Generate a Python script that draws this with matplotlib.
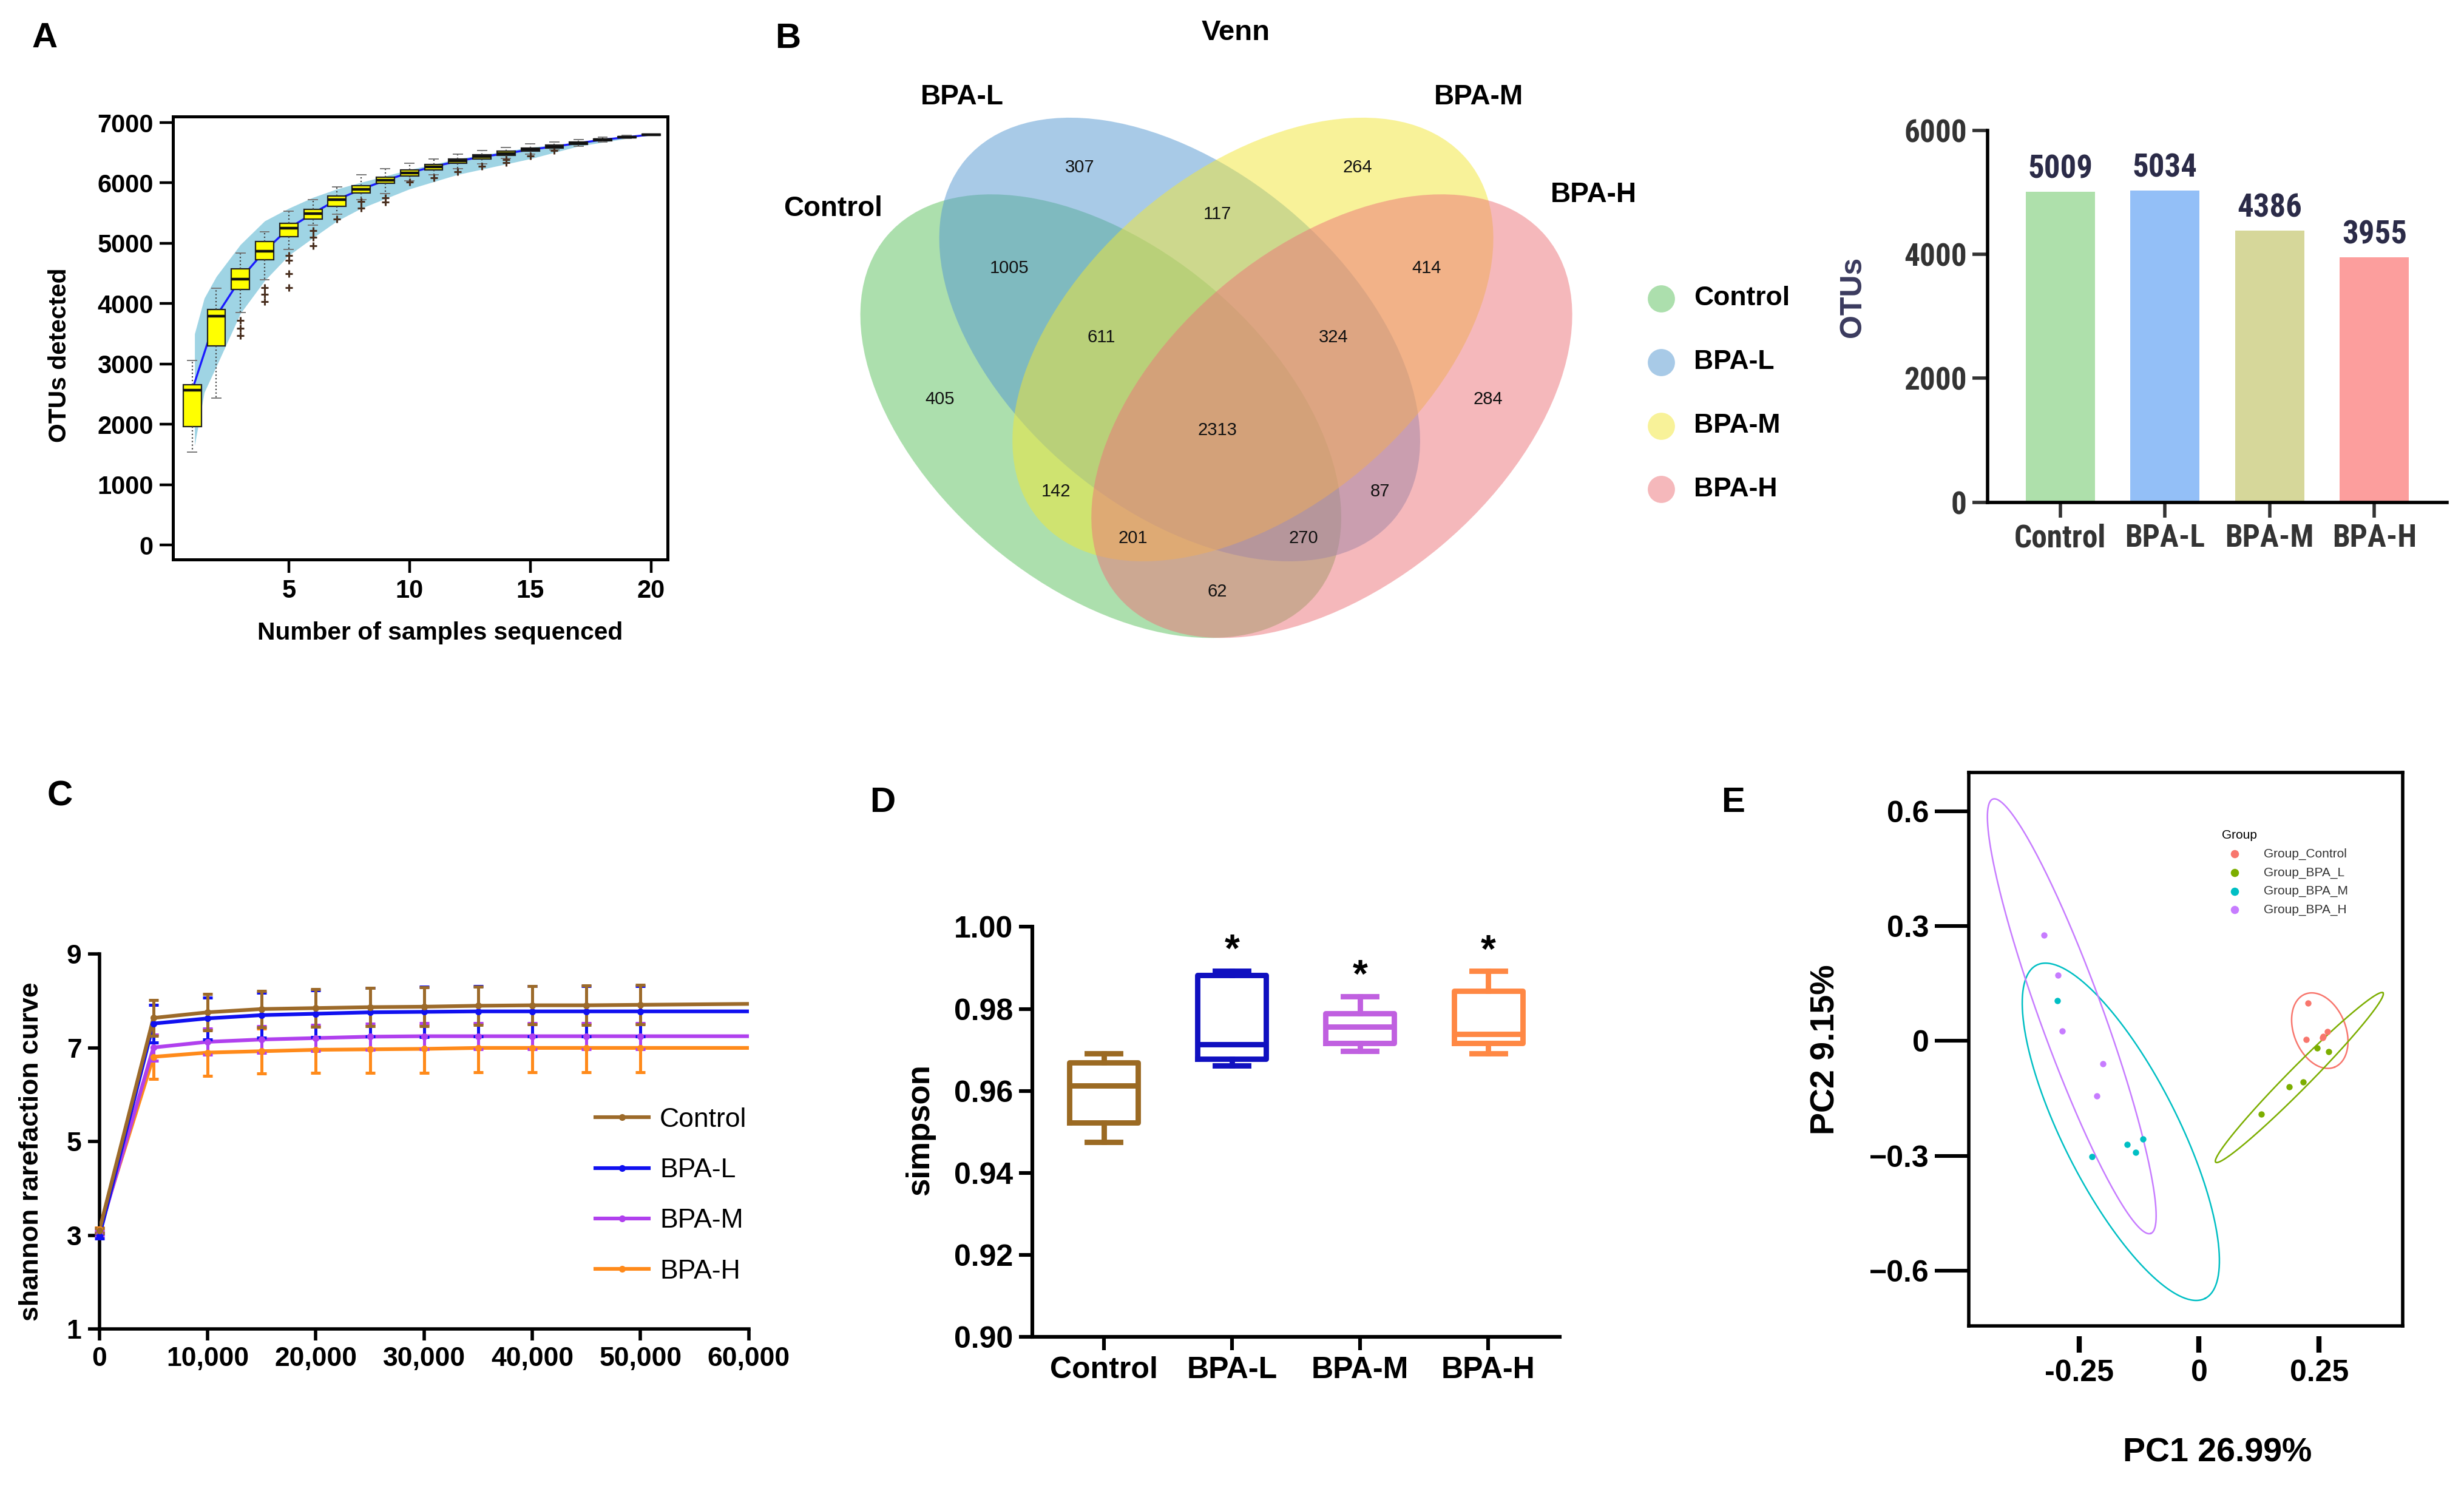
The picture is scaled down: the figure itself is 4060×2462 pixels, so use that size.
import numpy as np
import matplotlib
matplotlib.use('Agg')
import matplotlib.pyplot as plt
from matplotlib.patches import Ellipse
from matplotlib.lines import Line2D
from matplotlib import font_manager

plt.rcParams['font.family'] = ['Liberation Sans', 'DejaVu Sans']
installed = {f.name for f in font_manager.fontManager.ttflist}
narrow = 'Liberation Sans'
for cand in ['Liberation Sans Narrow', 'Roboto Condensed', 'Open Sans Condensed', 'DejaVu Sans Condensed']:
    if cand in installed:
        narrow = cand
        break

# ---------------- data ----------------
groups = ['Control', 'BPA-L', 'BPA-M', 'BPA-H']

# A: OTU accumulation (boxes per number of samples)
a_n = list(range(1, 21))
a_med = [2567, 3794, 4411, 4872, 5248, 5496, 5723, 5894, 6043, 6170,
         6270, 6362, 6433, 6489, 6553, 6603, 6660, 6716, 6759, 6801]
a_q1 = [1965, 3298, 4234, 4730, 5113, 5404, 5617, 5830, 5993, 6113,
        6220, 6326, 6397, 6461, 6525, 6574, 6638, 6695, 6745, 6790]
a_q3 = [2652, 3901, 4574, 5028, 5333, 5567, 5780, 5957, 6092, 6220,
        6305, 6397, 6468, 6525, 6574, 6624, 6680, 6730, 6765, 6805]
a_lo = [1539, 2440, 3850, 4400, 4900, 5300, 5480, 5720, 5820, 6040,
        6140, 6240, 6320, 6410, 6480, 6550, 6610, 6680, 6735, 6790]
a_hi = [3064, 4255, 4837, 5191, 5532, 5723, 5936, 6135, 6234, 6326,
        6397, 6482, 6539, 6589, 6645, 6680, 6720, 6760, 6785, 6810]
a_fliers = [[], [], [3720, 3590, 3470], [4270, 4150, 4030], [4800, 4720, 4500, 4270],
            [5210, 5100, 4960], [5400], [5690, 5580], [5750, 5680], [6010],
            [6090], [6190], [6280], [6390, 6340], [6450], [6540], [], [], [], []]
band_x = [1.1, 1.5, 2, 3, 4, 5, 6, 7, 8, 10, 12, 15, 17, 20]
band_hi = [3500, 4090, 4450, 4980, 5370, 5580, 5760, 5900, 6010, 6220, 6400, 6590, 6670, 6800]
band_lo = [1650, 2530, 2960, 3840, 4380, 4800, 5090, 5370, 5580, 5900, 6140, 6400, 6610, 6800]

# B: Venn region counts and OTU totals
venn_counts = [307, 264, 117, 1005, 414, 611, 324, 405, 2313, 284, 142, 87, 201, 270, 62]
otu_totals = [5009, 5034, 4386, 3955]

# C: shannon rarefaction
c_depth = [0, 5000, 10000, 15000, 20000, 25000, 30000, 35000, 40000, 45000, 50000, 60000]
c_mean = {
    'Control': [3.10, 7.64, 7.76, 7.83, 7.85, 7.87, 7.88, 7.90, 7.91, 7.91, 7.92, 7.94],
    'BPA-L': [2.98, 7.52, 7.63, 7.70, 7.73, 7.76, 7.77, 7.78, 7.78, 7.78, 7.78, 7.78],
    'BPA-M': [3.05, 7.01, 7.13, 7.18, 7.21, 7.24, 7.25, 7.25, 7.25, 7.25, 7.25, 7.25],
    'BPA-H': [3.12, 6.81, 6.90, 6.93, 6.96, 6.97, 6.98, 7.00, 7.00, 7.00, 7.00, 7.00],
}
c_sd = {
    'Control': [0.05, 0.38, 0.39, 0.39, 0.40, 0.41, 0.41, 0.41, 0.41, 0.42, 0.42],
    'BPA-L': [0.05, 0.40, 0.45, 0.48, 0.50, 0.52, 0.54, 0.54, 0.54, 0.54, 0.54],
    'BPA-M': [0.05, 0.28, 0.28, 0.28, 0.28, 0.28, 0.28, 0.28, 0.28, 0.28, 0.28],
    'BPA-H': [0.05, 0.47, 0.50, 0.48, 0.49, 0.50, 0.51, 0.52, 0.52, 0.52, 0.52],
}
c_xticklabels = ['0', '10,000', '20,000', '30,000', '40,000', '50,000', '60,000']

# D: simpson index boxes
d_lo = [0.9475, 0.9662, 0.9697, 0.9692]
d_q1 = [0.9523, 0.9678, 0.9716, 0.9716]
d_med = [0.9613, 0.9713, 0.9757, 0.9738]
d_q3 = [0.9669, 0.9882, 0.9789, 0.9844]
d_hi = [0.9692, 0.9893, 0.9830, 0.9892]
d_sig = ['', '*', '*', '*']

# E: PCoA points
e_labels = ['Group_Control', 'Group_BPA_L', 'Group_BPA_M', 'Group_BPA_H']
e_x = [[0.2275, 0.2236, 0.2585, 0.2668, 0.2571],
       [0.2456, 0.2701, 0.2165, 0.1881, 0.1301],
       [-0.2946, -0.2231, -0.1502, -0.1321, -0.1167],
       [-0.3229, -0.2940, -0.2850, -0.2005, -0.2127]]
e_y = [[0.0981, 0.0043, 0.0124, 0.0246, 0.0092],
       [-0.0183, -0.0273, -0.1065, -0.1201, -0.1913],
       [0.1045, -0.3019, -0.2704, -0.2907, -0.2558],
       [0.2760, 0.1710, 0.0253, -0.0588, -0.1443]]

# ---------------- layout / style ----------------
W, H = 1568, 951   # layout units of the reference
venn_pos = [(687, 106.5), (864, 106.5), (774.7, 136.3), (642.4, 170.7), (907.7, 170.7),
            (700.8, 214.6), (848.6, 214.6), (598.1, 254.2), (774.7, 273.7), (946.9, 254.2),
            (672.0, 313.0), (878.2, 313.0), (721.1, 342.8), (829.4, 342.8), (774.7, 376.6)]
venn_centers = [(700.5, 264.9), (750.7, 216.1), (797.3, 216.1), (847.5, 264.9)]
venn_angles = [40, 40, -40, -40]
venn_fill = ['#5bc15d', '#5397d1', '#f3e735', '#ed7379']
venn_names_pos = [(530.1, 132.8), (612.1, 61.8), (941.0, 61.8), (1014.2, 123.8)]
bar_colors = ['#aee0ab', '#93bff7', '#d6d79a', '#fc9e9d']
line_colors = {'Control': '#9c6a2a', 'BPA-L': '#1010f0', 'BPA-M': '#b040ee', 'BPA-H': '#ff8a1a'}
box_colors = ['#9b6a23', '#1010c0', '#c060e0', '#ff8844']
pca_colors = ['#f8766d', '#7cae00', '#00bfc4', '#c77cff']
# ellipses: centre, semi-axis vectors (data units)
e_ell_c = [(0.2514, 0.0269), (0.2088, -0.0955), (-0.1628, -0.2372), (-0.2649, 0.0644)]
e_ell_u = [(0.0307, -0.0953), (0.1741, 0.2211), (0.1753, -0.4351), (0.1644, -0.5670)]
e_ell_w = [(0.0500, 0.0253), (0.0162, -0.0200), (0.1067, 0.0676), (0.0618, 0.0282)]


def box(l, t, r, b):
    return [l / W, 1 - b / H, (r - l) / W, (b - t) / H]


fig = plt.figure(figsize=(20.3, 12.31), dpi=200)
ax0 = fig.add_axes([0, 0, 1, 1])
ax0.set_xlim(0, W)
ax0.set_ylim(H, 0)
ax0.axis('off')

# panel letters
for s, (x, y) in zip('ABCDE', [(28.3, 24.5), (501.3, 24.9), (38.2, 506.9), (561.6, 511), (1103, 511)]):
    ax0.text(x, y, s, fontsize=21, fontweight='bold', ha='center', va='center')

# ---------------- A ----------------
axA = fig.add_axes(box(110, 74, 425, 356))
axA.fill_between(band_x, band_lo, band_hi, color='#9fd4e4', lw=0, zorder=1)
axA.plot(a_n, a_med, color='#1a1aff', lw=1.2, zorder=2)
stats = [dict(med=m, q1=q1, q3=q3, whislo=lo, whishi=hi, fliers=f)
         for m, q1, q3, lo, hi, f in zip(a_med, a_q1, a_q3, a_lo, a_hi, a_fliers)]
axA.bxp(stats, positions=a_n, widths=0.75, patch_artist=True, manage_ticks=False,
        boxprops=dict(facecolor='#ffff00', edgecolor='#222222', lw=0.8),
        medianprops=dict(color='#111111', lw=1.6),
        whiskerprops=dict(color='#444444', lw=0.8, ls=':'),
        capprops=dict(color='#777777', lw=0.7),
        flierprops=dict(marker='+', markeredgecolor='#4a3020', markersize=4.5, markeredgewidth=1.1),
        zorder=3)
axA.set_xlim(0.2, 20.7)
axA.set_ylim(-235, 7105)
axA.set_xticks([5, 10, 15, 20])
axA.set_yticks(range(0, 7001, 1000))
for sp in axA.spines.values():
    sp.set_linewidth(1.8)
axA.tick_params(direction='out', length=8, width=1.6, labelsize=15)
for lab in axA.get_xticklabels() + axA.get_yticklabels():
    lab.set_fontweight('bold')
ax0.text(38, 226, 'OTUs detected', rotation=90, fontsize=14.7, fontweight='bold', ha='center', va='center')
ax0.text(280, 403, 'Number of samples sequenced', fontsize=14.7, fontweight='bold', ha='center', va='center')

# ---------------- B: Venn ----------------
for (cx, cy), ang, col in zip(venn_centers, venn_angles, venn_fill):
    ax0.add_patch(Ellipse((cx, cy), 356, 216, angle=ang, facecolor=col, alpha=0.5, lw=0))
for v, (x, y) in zip(venn_counts, venn_pos):
    ax0.text(x, y, str(v), fontsize=10.5, ha='center', va='center', color='#111111')
for g, (x, y) in zip(groups, venn_names_pos):
    ax0.text(x, y, g, fontsize=16.5, fontweight='bold', ha='center', va='center')
ax0.text(786.5, 21, 'Venn', fontsize=17, fontweight='bold', ha='center', va='center')
for i, g in enumerate(groups):
    yy = 190 + 40.5 * i
    ax0.scatter([1057], [yy], s=260, color=venn_fill[i], alpha=0.5, lw=0)
    ax0.text(1078, yy, g, fontsize=16, fontweight='bold', ha='left', va='center')

# ---------------- B: bars ----------------
axB = fig.add_axes(box(1265, 83, 1557, 319.7))
xb = np.arange(len(groups))
axB.bar(xb, otu_totals, width=0.66, color=bar_colors)
for x, v in zip(xb, otu_totals):
    axB.text(x, v + 110, str(v), ha='center', va='bottom', fontsize=19, fontweight='bold',
             color='#2b2b48', family=narrow)
axB.set_xlim(-0.69, 3.69)
axB.set_ylim(0, 6000)
axB.set_xticks(xb)
axB.set_xticklabels(groups)
axB.set_yticks([0, 2000, 4000, 6000])
axB.spines['top'].set_visible(False)
axB.spines['right'].set_visible(False)
axB.spines['left'].set_linewidth(2)
axB.spines['bottom'].set_linewidth(2)
axB.tick_params(direction='out', length=9, width=2, labelsize=18.5, colors='#333333')
for lab in axB.get_xticklabels() + axB.get_yticklabels():
    lab.set_family(narrow)
    lab.set_fontweight('bold')
ax0.text(1179, 189, 'OTUs', rotation=90, fontsize=18, fontweight='bold', ha='center', va='center',
         color='#3a3a5e')

# ---------------- C ----------------
axC = fig.add_axes(box(63.2, 607.4, 476.5, 846))
handles = []
for g in ['BPA-H', 'BPA-M', 'BPA-L', 'Control']:
    col = line_colors[g]
    axC.plot(c_depth, c_mean[g], color=col, lw=2.2, zorder=3)
    axC.errorbar(c_depth[:-1], c_mean[g][:-1], yerr=c_sd[g], fmt='o', color=col, ms=3,
                 elinewidth=1.8, capsize=3, capthick=1.8, zorder=3, clip_on=False)
for g in groups:
    handles.append(Line2D([], [], color=line_colors[g], lw=2.2, marker='o', ms=3, label=g))
axC.legend(handles=handles, loc='upper left', bbox_to_anchor=(0.726, 0.656), frameon=False,
           fontsize=16, handlelength=2.0, labelspacing=0.95, handletextpad=0.4)
axC.set_xlim(0, 60000)
axC.set_ylim(1, 9)
axC.set_xticks(range(0, 60001, 10000))
axC.set_xticklabels(c_xticklabels)
axC.set_yticks([1, 3, 5, 7, 9])
axC.spines['top'].set_visible(False)
axC.spines['right'].set_visible(False)
axC.spines['left'].set_linewidth(2)
axC.spines['bottom'].set_linewidth(2)
axC.tick_params(direction='out', length=7, width=2, labelsize=16)
for lab in axC.get_xticklabels() + axC.get_yticklabels():
    lab.set_fontweight('bold')
ax0.text(20, 733, 'shannon rarefaction curve', rotation=90, fontsize=16, fontweight='bold',
         ha='center', va='center')

# ---------------- D ----------------
axD = fig.add_axes(box(657, 590, 992.7, 851))
for i in range(len(groups)):
    st = [dict(med=d_med[i], q1=d_q1[i], q3=d_q3[i], whislo=d_lo[i], whishi=d_hi[i], fliers=[])]
    c = box_colors[i]
    axD.bxp(st, positions=[i], widths=0.535, manage_ticks=False,
            boxprops=dict(color=c, lw=3.2), medianprops=dict(color=c, lw=3.2),
            whiskerprops=dict(color=c, lw=3.2), capprops=dict(color=c, lw=3.2),
            capwidths=0.26)
    if d_sig[i]:
        axD.text(i, d_hi[i] + 0.0003, d_sig[i], ha='center', va='bottom', fontsize=23, fontweight='bold')
axD.set_xlim(-0.556, 3.56)
axD.set_ylim(0.90, 1.00)
axD.set_xticks(range(len(groups)))
axD.set_xticklabels(groups)
axD.set_yticks([0.90, 0.92, 0.94, 0.96, 0.98, 1.00])
axD.set_yticklabels(['0.90', '0.92', '0.94', '0.96', '0.98', '1.00'])
axD.spines['top'].set_visible(False)
axD.spines['right'].set_visible(False)
axD.spines['left'].set_linewidth(2.2)
axD.spines['bottom'].set_linewidth(2.2)
axD.tick_params(direction='out', length=8, width=2.2, labelsize=18)
for lab in axD.get_xticklabels() + axD.get_yticklabels():
    lab.set_fontweight('bold')
ax0.text(585.4, 719, 'simpson', rotation=90, fontsize=19, fontweight='bold', ha='center', va='center')

# ---------------- E ----------------
axE = fig.add_axes(box(1252.8, 491.7, 1529, 844))
t = np.linspace(0, 2 * np.pi, 300)
for i in range(4):
    cx, cy = e_ell_c[i]
    ux, uy = e_ell_u[i]
    wx, wy = e_ell_w[i]
    axE.plot(cx + ux * np.cos(t) + wx * np.sin(t), cy + uy * np.cos(t) + wy * np.sin(t),
             color=pca_colors[i], lw=0.9)
for i in range(4):
    axE.scatter(e_x[i], e_y[i], s=14, color=pca_colors[i], lw=0, label=e_labels[i], zorder=3)
leg = axE.legend(loc='upper left', bbox_to_anchor=(0.56, 0.915), frameon=False, fontsize=7.5,
                 title='Group', title_fontsize=7.5, handlelength=2.0, handletextpad=1.3,
                 labelspacing=0.55, markerscale=1.3, alignment='left', borderpad=0.3)
for txt in leg.get_texts():
    txt.set_color('#333333')
axE.set_xlim(-0.4795, 0.424)
axE.set_ylim(-0.744, 0.701)
axE.set_yticks([0.6, 0.3, 0, -0.3, -0.6])
axE.set_yticklabels(['0.6', '0.3', '0', '\u22120.3', '\u22120.6'])
axE.set_xticks([])
for sp in axE.spines.values():
    sp.set_linewidth(2)
axE.tick_params(axis='y', direction='out', length=20, width=2.2, labelsize=18)
for lab in axE.get_yticklabels():
    lab.set_fontweight('bold')
secx = axE.secondary_xaxis(-0.019)
secx.set_xticks([-0.25, 0, 0.25])
secx.set_xticklabels(['-0.25', '0', '0.25'])
secx.spines['bottom'].set_visible(False)
secx.tick_params(direction='out', length=9.6, width=3, labelsize=18, pad=4)
for lab in secx.get_xticklabels():
    lab.set_fontweight('bold')
ax0.text(1162, 668, 'PC2 9.15%', rotation=90, fontsize=20, fontweight='bold', ha='center', va='center')
ax0.text(1411, 925, 'PC1 26.99%', fontsize=20, fontweight='bold', ha='center', va='center')

fig.savefig('out.png', dpi=200)
